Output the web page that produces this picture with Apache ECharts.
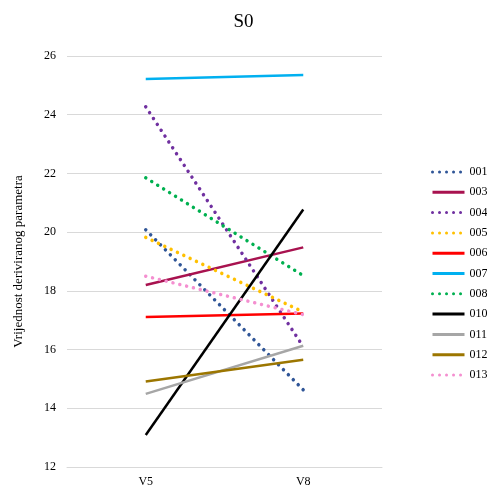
<!DOCTYPE html>
<html><head><meta charset="utf-8">
<script src="https://cdn.jsdelivr.net/npm/echarts@6/dist/echarts.min.js"></script>
<style>html,body{margin:0;padding:0;background:#fff}#c{width:487px;height:488px}</style>
</head><body><div id="c"></div>
<script>
var categories = ['V5', 'V8'];
var seriesNames = ['001','003','004','005','006','007','008','010','011','012','013'];
var s001 = [20.08, 14.63];
var s003 = [18.20, 19.48];
var s004 = [24.27, 16.10];
var s005 = [19.82, 17.28];
var s006 = [17.11, 17.23];
var s007 = [25.22, 25.35];
var s008 = [21.85, 18.52];
var s010 = [13.09, 20.77];
var s011 = [14.49, 16.13];
var s012 = [14.91, 15.65];
var s013 = [18.50, 17.19];
var yTicks = [12, 14, 16, 18, 20, 22, 24, 26];

var values = [s001,s003,s004,s005,s006,s007,s008,s010,s011,s012,s013];
var colors = ['#2F5597','#A8124F','#7030A0','#FFC000','#FF0000','#00B0F0','#00B050','#000000','#A6A6A6','#9C7600','#F48FD0'];
var dotted = [true,false,true,true,false,false,true,false,false,false,true];
var FONT = '"Liberation Serif","Times New Roman",serif';

var series = seriesNames.map(function(n, i){
  return {
    name: n, type: 'line', data: values[i], symbol: 'none', animation: false,
    lineStyle: dotted[i]
      ? {color: colors[i], width: 3.5, type: [0.01, 7], cap: 'round'}
      : {color: colors[i], width: 2.5, type: 'solid'},
    itemStyle: {color: colors[i]}
  };
});

var chart = echarts.init(document.getElementById('c'), null, {renderer: 'canvas'});
chart.setOption({
  backgroundColor: '#fff',
  animation: false,
  title: {text: 'S0', left: 'center', top: 8, textStyle: {fontFamily: FONT, fontSize: 19, fontWeight: 'normal', color: '#000'}},
  grid: {left: 67, right: 105, top: 56, bottom: 20, containLabel: false},
  legend: {
    orient: 'vertical', left: 431, top: 166, padding: 0, itemWidth: 32, itemHeight: 12, itemGap: 8.3,
    itemStyle: {opacity: 0},
    lineStyle: {width: 3},
    textStyle: {fontFamily: FONT, fontSize: 12, color: '#000'},
    data: seriesNames
  },
  xAxis: {
    type: 'category', data: categories, boundaryGap: true,
    axisLine: {show: true, lineStyle: {color: '#d9d9d9', width: 1}},
    axisTick: {show: false},
    axisLabel: {fontFamily: FONT, fontSize: 12, color: '#000', margin: 9}
  },
  yAxis: {
    type: 'value', min: yTicks[0], max: yTicks[yTicks.length-1], interval: 2,
    name: 'Vrijednost deriviranog parametra', nameLocation: 'middle', nameGap: 42, nameRotate: 90,
    nameTextStyle: {fontFamily: FONT, fontSize: 13, color: '#000'},
    axisLine: {show: false}, axisTick: {show: false},
    axisLabel: {fontFamily: FONT, fontSize: 12, color: '#000', margin: 11},
    splitLine: {lineStyle: {color: '#d9d9d9', width: 1}}
  },
  series: series
});
</script></body></html>
